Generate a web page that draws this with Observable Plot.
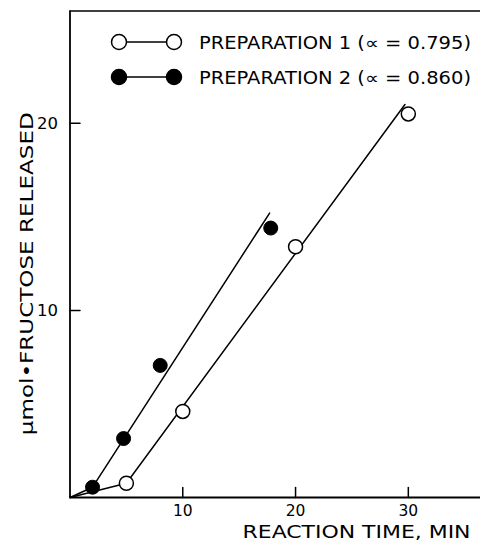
<!DOCTYPE html>
<html><head><meta charset="utf-8">
<script src="https://cdn.jsdelivr.net/npm/d3@7"></script>
<script src="https://cdn.jsdelivr.net/npm/@observablehq/plot@0.6"></script>
<style>body{margin:0;background:#fff}</style>
</head><body><div id="chart"></div>
<script>
// measured points
const prep1Time = [5, 10, 20, 30];
const prep1Fructose = [0.76, 4.6, 13.4, 20.5];
const prep2Time = [2, 4.75, 8, 17.8];
const prep2Fructose = [0.55, 3.15, 7.06, 14.4];
// hand-drawn fit line vertices
const prep1LineTime = [0, 5, 29.7];
const prep1LineFructose = [0, 0.76, 21.0];
const prep2LineTime = [0, 2, 17.7];
const prep2LineFructose = [0, 0.55, 15.2];
// axes
const xDomain = [0, 36.4];
const yDomain = [0, 26];
const xTicks = [10, 20, 30];
const yTicks = [10, 20];
const legendLabels = ["PREPARATION 1 (\u221D = 0.795)", "PREPARATION 2 (\u221D = 0.860)"];
const legendFills = ["white", "black"];
const xLabel = "REACTION TIME, MIN";
const yLabel = "\u00B5mol\u2022FRUCTOSE RELEASED";

const tickShape = {draw(context, l) { context.moveTo(0, 0); context.lineTo(0, -l); }};

function legendMark(index, scales, values, dims) {
  const g = d3.create("svg:g");
  const x0 = dims.marginLeft;
  const y0 = dims.marginTop;
  legendLabels.forEach((label, i) => {
    const cy = y0 + 31.5 + i * 35;
    const cx1 = x0 + 49.5, cx2 = x0 + 104.5;
    g.append("line").attr("x1", cx1).attr("x2", cx2).attr("y1", cy).attr("y2", cy)
      .attr("stroke", "black").attr("stroke-width", 1.5);
    [cx1, cx2].forEach(cx => g.append("circle").attr("cx", cx).attr("cy", cy).attr("r", 7.5)
      .attr("fill", legendFills[i]).attr("stroke", "black").attr("stroke-width", 1.5));
    g.append("text").attr("x", x0 + 129.5).attr("y", cy + 6.5)
      .attr("text-anchor", "start")
      .attr("font-size", 17.5).attr("fill", "black")
      .attr("textLength", 272).attr("lengthAdjust", "spacingAndGlyphs")
      .text(label);
  });
  return g.node();
}

const plot = Plot.plot({
  width: 480, height: 542,
  marginLeft: 69.5, marginTop: 10.5, marginBottom: 45, marginRight: 0,
  x: {domain: xDomain},
  y: {domain: yDomain},
  style: {fontFamily: "DejaVu Sans", fontSize: "15.5px", color: "black", background: "white"},
  marks: [
    Plot.ruleY([yDomain[0]], {strokeWidth: 1.8}),
    Plot.ruleX([xDomain[0]], {strokeWidth: 1.8}),
    Plot.ruleY([yDomain[1]], {strokeWidth: 1.5}),
    Plot.vector(xTicks, {x: d => d, y: d => 0, length: 10, rotate: 0, anchor: "start", shape: tickShape, strokeWidth: 1.5}),
    Plot.vector(yTicks, {x: d => 0, y: d => d, length: 10, rotate: 90, anchor: "start", shape: tickShape, strokeWidth: 1.5}),
    Plot.axisX({ticks: xTicks, tickSize: 0, tickPadding: 7, label: null, fontSize: 15.5}),
    Plot.axisY({ticks: yTicks, tickSize: 0, tickPadding: 12, label: null, fontSize: 16.5}),
    Plot.line(prep1LineTime, {x: prep1LineTime, y: prep1LineFructose, strokeWidth: 1.5}),
    Plot.line(prep2LineTime, {x: prep2LineTime, y: prep2LineFructose, strokeWidth: 1.5}),
    Plot.dot(prep1Time, {x: prep1Time, y: prep1Fructose, r: 7, fill: "white", stroke: "black", strokeWidth: 1.5}),
    Plot.dot(prep2Time, {x: prep2Time, y: prep2Fructose, r: 7, fill: "black", stroke: "black", strokeWidth: 1}),
    Plot.text([xLabel], {frameAnchor: "bottom-right", dx: -10, dy: 40.8, textAnchor: "end", lineAnchor: "bottom", fontSize: 17}),
    Plot.text([yLabel], {frameAnchor: "left", rotate: -90, dx: -42.5, dy: 181, textAnchor: "start", fontSize: 18})
  ].concat([legendMark])
});

d3.select(plot).selectAll("text").each(function() {
  const t = d3.select(this).text();
  if (t === xLabel) d3.select(this).attr("textLength", 228).attr("lengthAdjust", "spacingAndGlyphs");
  if (t === yLabel) d3.select(this).attr("textLength", 323).attr("lengthAdjust", "spacingAndGlyphs");
});

document.getElementById("chart").append(plot);
</script>
</body></html>
